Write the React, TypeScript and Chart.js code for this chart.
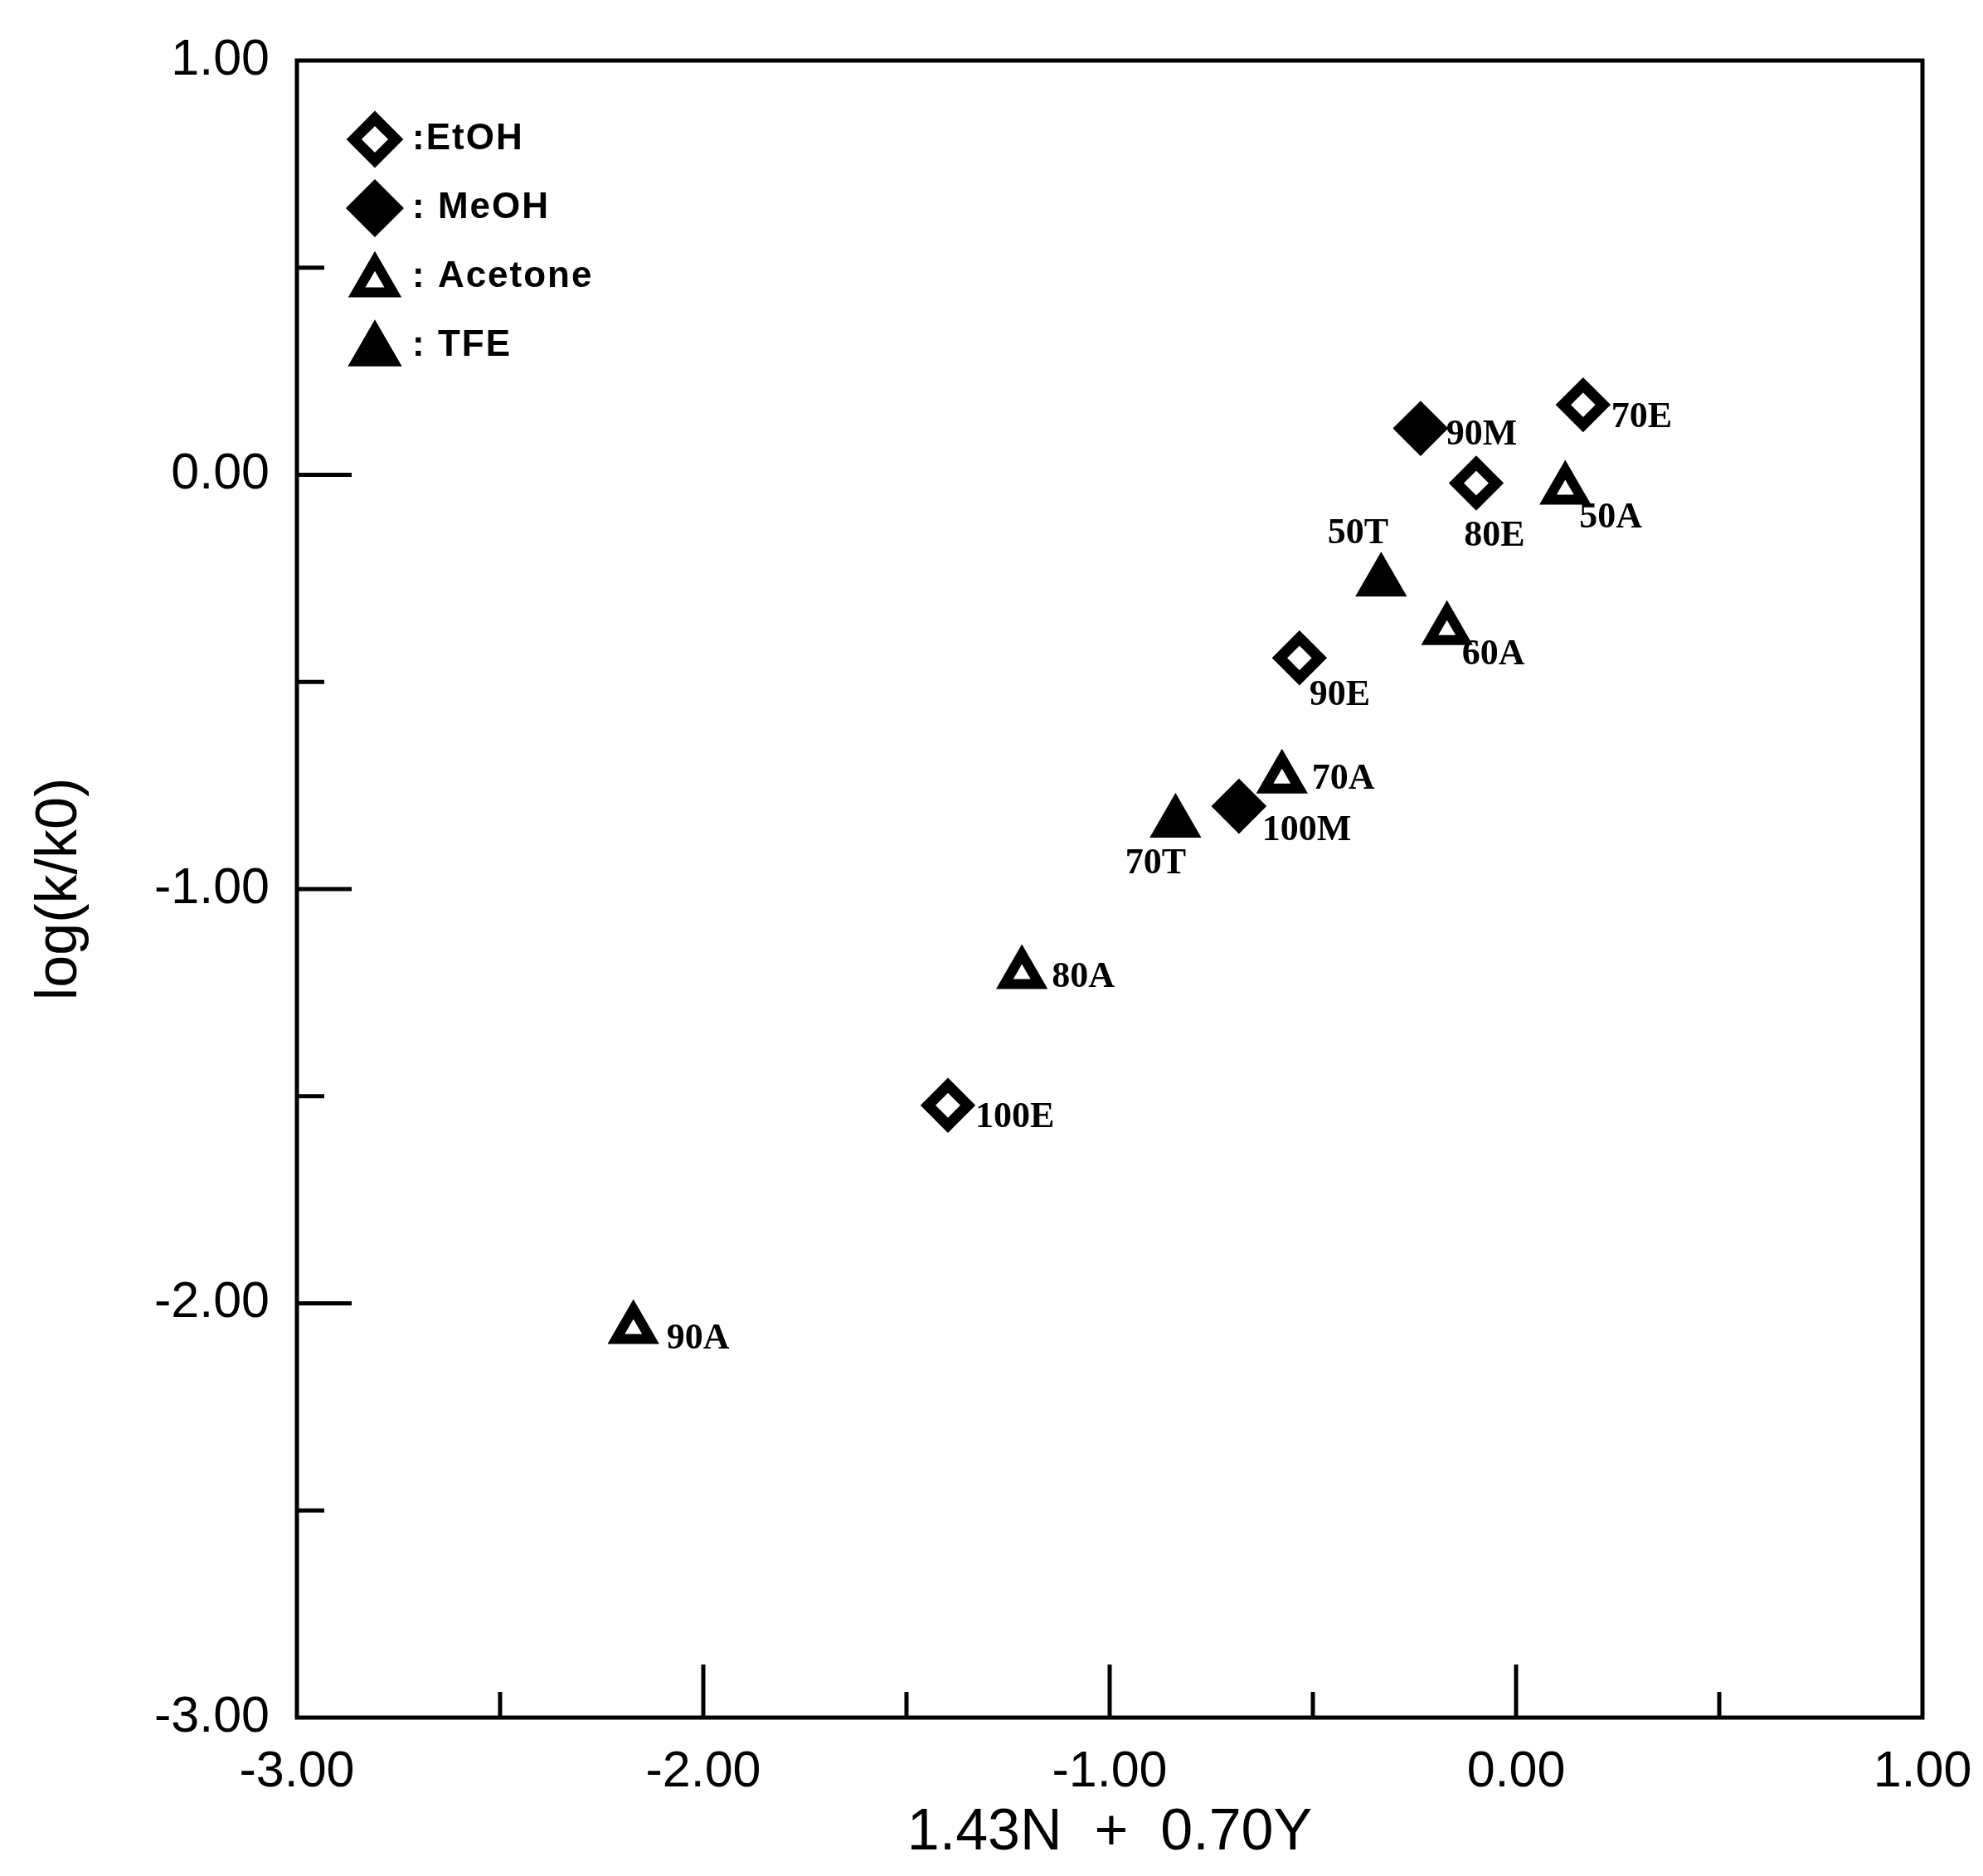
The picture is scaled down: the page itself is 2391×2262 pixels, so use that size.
import { useEffect, useRef } from "react";
import { Chart, registerables } from "chart.js";

Chart.register(...registerables);

// EtOH (open diamonds)
const etohNames = ["70E", "80E", "90E", "100E"];
const etohX = [0.165, -0.098, -0.533, -1.398];
const etohY = [0.169, -0.02, -0.442, -1.522];

// MeOH (filled diamonds)
const meohNames = ["90M", "100M"];
const meohX = [-0.235, -0.682];
const meohY = [0.112, -0.8];

// Acetone (open triangles)
const acetoneNames = ["50A", "60A", "70A", "80A", "90A"];
const acetoneX = [0.121, -0.17, -0.576, -1.216, -2.172];
const acetoneY = [-0.036, -0.375, -0.733, -1.205, -2.062];

// TFE (filled triangles)
const tfeNames = ["50T", "70T"];
const tfeX = [-0.332, -0.838];
const tfeY = [-0.258, -0.84];

const legendTexts = [":EtOH", ": MeOH", ": Acetone", ": TFE"];

// axis ticks
const axisMin = -3;
const axisMax = 1;
const majorTicks = [-2, -1, 0];
const minorTicks = [-2.5, -1.5, -0.5, 0.5];

// where each point label sits relative to its marker (px)
const labelOffsets: Record<string, [number, number, CanvasTextAlign]> = {
  "70E": [34, 16, "left"],
  "80E": [22, 64, "center"],
  "90E": [12, 45, "left"],
  "100E": [33, 15, "left"],
  "90M": [31, 8, "left"],
  "100M": [28, 30, "left"],
  "50A": [17, 34, "left"],
  "60A": [18, 30, "left"],
  "70A": [36, 1, "left"],
  "80A": [36, 4, "left"],
  "90A": [40, 12, "left"],
  "50T": [-28, -58, "center"],
  "70T": [-24, 50, "center"],
};

const toPoints = (xs: number[], ys: number[], names: string[]) =>
  xs.map((x, i) => ({ x, y: ys[i], name: names[i] }));

const tickFont = '"Liberation Sans Narrow", "Liberation Sans", Arial, sans-serif';

function drawMarker(
  ctx: CanvasRenderingContext2D,
  style: string,
  r: number,
  x: number,
  y: number
) {
  ctx.beginPath();
  if (style === "rectRot") {
    ctx.moveTo(x - r, y);
    ctx.lineTo(x, y - r);
    ctx.lineTo(x + r, y);
    ctx.lineTo(x, y + r);
  } else {
    ctx.moveTo(x, y - r);
    ctx.lineTo(x + r * Math.sin((2 * Math.PI) / 3), y - r * Math.cos((2 * Math.PI) / 3));
    ctx.lineTo(x + r * Math.sin((4 * Math.PI) / 3), y - r * Math.cos((4 * Math.PI) / 3));
  }
  ctx.closePath();
}

const framePlugin = {
  id: "frame",
  beforeDatasetsDraw(chart: any) {
    const { ctx, chartArea, scales } = chart;
    const { left, right, top, bottom } = chartArea;
    ctx.save();
    ctx.strokeStyle = "#000";
    ctx.lineWidth = 5;
    ctx.strokeRect(left, top, right - left, bottom - top);
    ctx.beginPath();
    majorTicks.forEach((v) => {
      const px = scales.x.getPixelForValue(v);
      ctx.moveTo(px, bottom);
      ctx.lineTo(px, bottom - 64);
      const py = scales.y.getPixelForValue(v);
      ctx.moveTo(left, py);
      ctx.lineTo(left + 66, py);
    });
    minorTicks.forEach((v) => {
      const px = scales.x.getPixelForValue(v);
      ctx.moveTo(px, bottom);
      ctx.lineTo(px, bottom - 31);
      const py = scales.y.getPixelForValue(v);
      ctx.moveTo(left, py);
      ctx.lineTo(left + 33, py);
    });
    ctx.stroke();
    ctx.restore();
  },
};

const labelPlugin = {
  id: "pointLabels",
  afterDatasetsDraw(chart: any) {
    const { ctx } = chart;
    ctx.save();
    ctx.fillStyle = "#000";
    ctx.font = 'bold 44px "Liberation Serif", "DejaVu Serif", serif';
    ctx.textBaseline = "middle";
    chart.data.datasets.forEach((ds: any, di: number) => {
      const meta = chart.getDatasetMeta(di);
      meta.data.forEach((el: any, i: number) => {
        const name = ds.data[i].name;
        const [dx, dy, align] = labelOffsets[name] || [30, 0, "left"];
        ctx.textAlign = align;
        ctx.fillText(name, el.x + dx, el.y + dy);
      });
    });
    ctx.restore();
  },
};

const legendPlugin = {
  id: "cornerLegend",
  afterDraw(chart: any) {
    const { ctx, chartArea } = chart;
    const mx = chartArea.left + 94;
    const tx = chartArea.left + 139;
    ctx.save();
    ctx.font = 'bold 44px "Liberation Sans", Arial, sans-serif';
    (ctx as any).letterSpacing = "2px";
    ctx.textBaseline = "middle";
    ctx.textAlign = "left";
    chart.data.datasets.forEach((ds: any, i: number) => {
      const y = chartArea.top + 95 + i * 83;
      const my = ds.pointStyle === "triangle" ? y + 6 : y;
      drawMarker(ctx, ds.pointStyle, ds.pointRadius * 1.05, mx, my);
      ctx.fillStyle = ds.pointBackgroundColor;
      ctx.fill();
      ctx.lineWidth = ds.pointBorderWidth;
      ctx.strokeStyle = "#000";
      ctx.stroke();
      ctx.fillStyle = "#000";
      ctx.fillText(legendTexts[i], tx, y);
    });
    ctx.restore();
  },
};

export default function App() {
  const chartRef = useRef<HTMLCanvasElement>(null);
  const chartInstance = useRef<Chart | null>(null);

  useEffect(() => {
    const ctx = chartRef.current?.getContext("2d");
    if (!ctx) return;

    if (chartInstance.current) {
      chartInstance.current.destroy();
    }

    chartInstance.current = new Chart(ctx, {
      type: "scatter",
      data: {
        datasets: [
          {
            label: "EtOH",
            data: toPoints(etohX, etohY, etohNames),
            pointStyle: "rectRot",
            pointRadius: 24,
            pointBorderWidth: 13,
            pointBackgroundColor: "#fff",
            pointBorderColor: "#000",
          },
          {
            label: "MeOH",
            data: toPoints(meohX, meohY, meohNames),
            pointStyle: "rectRot",
            pointRadius: 32,
            pointBorderWidth: 2,
            pointBackgroundColor: "#000",
            pointBorderColor: "#000",
          },
          {
            label: "Acetone",
            data: toPoints(acetoneX, acetoneY, acetoneNames),
            pointStyle: "triangle",
            pointRadius: 24,
            pointBorderWidth: 12,
            pointBackgroundColor: "#fff",
            pointBorderColor: "#000",
          },
          {
            label: "TFE",
            data: toPoints(tfeX, tfeY, tfeNames),
            pointStyle: "triangle",
            pointRadius: 34,
            pointBorderWidth: 2,
            pointBackgroundColor: "#000",
            pointBorderColor: "#000",
          },
        ] as any,
      },
      options: {
        animation: false,
        responsive: true,
        maintainAspectRatio: false,
        layout: { padding: { top: 73, right: 73, left: 0, bottom: 0 } },
        plugins: {
          legend: { display: false },
          tooltip: { enabled: false },
        },
        scales: {
          x: {
            type: "linear",
            position: "bottom",
            min: axisMin,
            max: axisMax,
            grid: { display: false, drawTicks: false },
            border: { display: false },
            ticks: {
              stepSize: 1,
              autoSkip: false,
              maxRotation: 0,
              padding: 30,
              color: "#000",
              font: { family: tickFont, size: 61 },
              callback: (v: any) => Number(v).toFixed(2),
            },
            title: {
              display: true,
              text: "1.43N  +  0.70Y",
              color: "#000",
              font: { family: '"Liberation Sans", Arial, sans-serif', size: 70 },
              padding: { top: 0, bottom: 9 },
            },
            afterFit: (s: any) => {
              s.height = 191;
              s.paddingLeft = 0;
              s.paddingRight = 0;
            },
          },
          y: {
            type: "linear",
            min: axisMin,
            max: axisMax,
            grid: { display: false, drawTicks: false },
            border: { display: false },
            ticks: {
              stepSize: 1,
              autoSkip: false,
              padding: 33,
              color: "#000",
              font: { family: tickFont, size: 61 },
              callback: (v: any) => Number(v).toFixed(2),
            },
            title: {
              display: true,
              text: "log(k/k0)",
              color: "#000",
              font: { family: '"Liberation Sans", Arial, sans-serif', size: 70 },
              padding: { top: 31, bottom: 0 },
            },
            afterFit: (s: any) => {
              s.width = 358;
              s.paddingTop = 0;
              s.paddingBottom = 0;
            },
          },
        },
      },
      plugins: [framePlugin, labelPlugin, legendPlugin],
    });

    return () => {
      chartInstance.current?.destroy();
      chartInstance.current = null;
    };
  }, []);

  return (
    <div
      style={{
        position: "fixed",
        left: 0,
        top: 0,
        width: 2391,
        height: 2262,
        background: "#fff",
      }}
    >
      <canvas ref={chartRef} />
    </div>
  );
}
